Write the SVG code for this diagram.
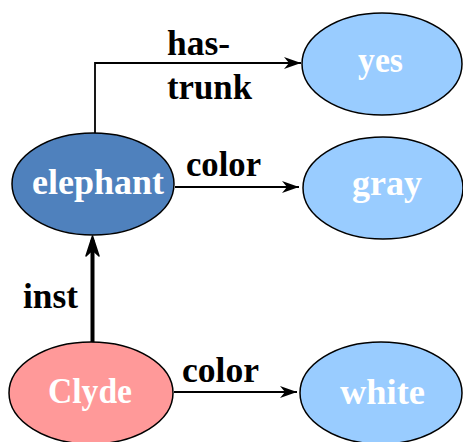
<svg xmlns="http://www.w3.org/2000/svg" width="463" height="442" viewBox="0 0 463 442">
<style>
.n{stroke:#000;stroke-width:1.5}
.t{font-family:"Liberation Serif","Times New Roman",serif;font-weight:bold;font-size:35px}
.w{fill:#fff}
.b{fill:#000}
.c{fill:none;stroke:#000;stroke-width:1.8}
</style>
<defs>
<marker id="ah" markerUnits="userSpaceOnUse" markerWidth="18" markerHeight="14" refX="17" refY="7" orient="auto">
<path d="M0,1 L17,7 L0,13 L5,7 Z" fill="#000"/>
</marker>
</defs>
<g id="connectors">
<path class="c" d="M95,133 V63 H301" marker-end="url(#ah)"/>
<path class="c" d="M175,187 H299" marker-end="url(#ah)"/>
<path class="c" d="M174,392 H297" marker-end="url(#ah)"/>
<path fill="none" stroke="#000" stroke-width="4" d="M92.5,343 V240"/>
<path d="M92.5,236 L86,256 L92.5,250 L99,256 Z" fill="#000" stroke="#000" stroke-width="1.5" stroke-linejoin="round"/>
<text class="t b" x="167" y="55" textLength="63" lengthAdjust="spacingAndGlyphs">has-</text>
<text class="t b" x="167" y="99" textLength="85" lengthAdjust="spacingAndGlyphs">trunk</text>
<text class="t b" x="186" y="176" textLength="75" lengthAdjust="spacingAndGlyphs">color</text>
<text class="t b" x="182" y="382" textLength="77" lengthAdjust="spacingAndGlyphs">color</text>
<text class="t b" x="23" y="308" textLength="55" lengthAdjust="spacingAndGlyphs">inst</text>
</g>
<g id="elephant">
<ellipse class="n" cx="93" cy="184" rx="81" ry="51" fill="#4F81BD"/>
<text class="t w" x="32" y="194" textLength="132" lengthAdjust="spacingAndGlyphs">elephant</text>
</g>
<g id="yes">
<ellipse class="n" cx="382" cy="64" rx="80" ry="51" fill="#99CCFF"/>
<text class="t w" x="358" y="72" textLength="45" lengthAdjust="spacingAndGlyphs">yes</text>
</g>
<g id="gray">
<ellipse class="n" cx="383" cy="188" rx="80" ry="51" fill="#99CCFF"/>
<text class="t w" x="352" y="195" textLength="70" lengthAdjust="spacingAndGlyphs">gray</text>
</g>
<g id="Clyde">
<ellipse class="n" cx="91" cy="393" rx="82" ry="51" fill="#FF9999"/>
<text class="t w" x="48" y="403" textLength="84" lengthAdjust="spacingAndGlyphs">Clyde</text>
</g>
<g id="white">
<ellipse class="n" cx="381" cy="393" rx="81" ry="51" fill="#99CCFF"/>
<text class="t w" x="340" y="404" textLength="85" lengthAdjust="spacingAndGlyphs">white</text>
</g>
</svg>
